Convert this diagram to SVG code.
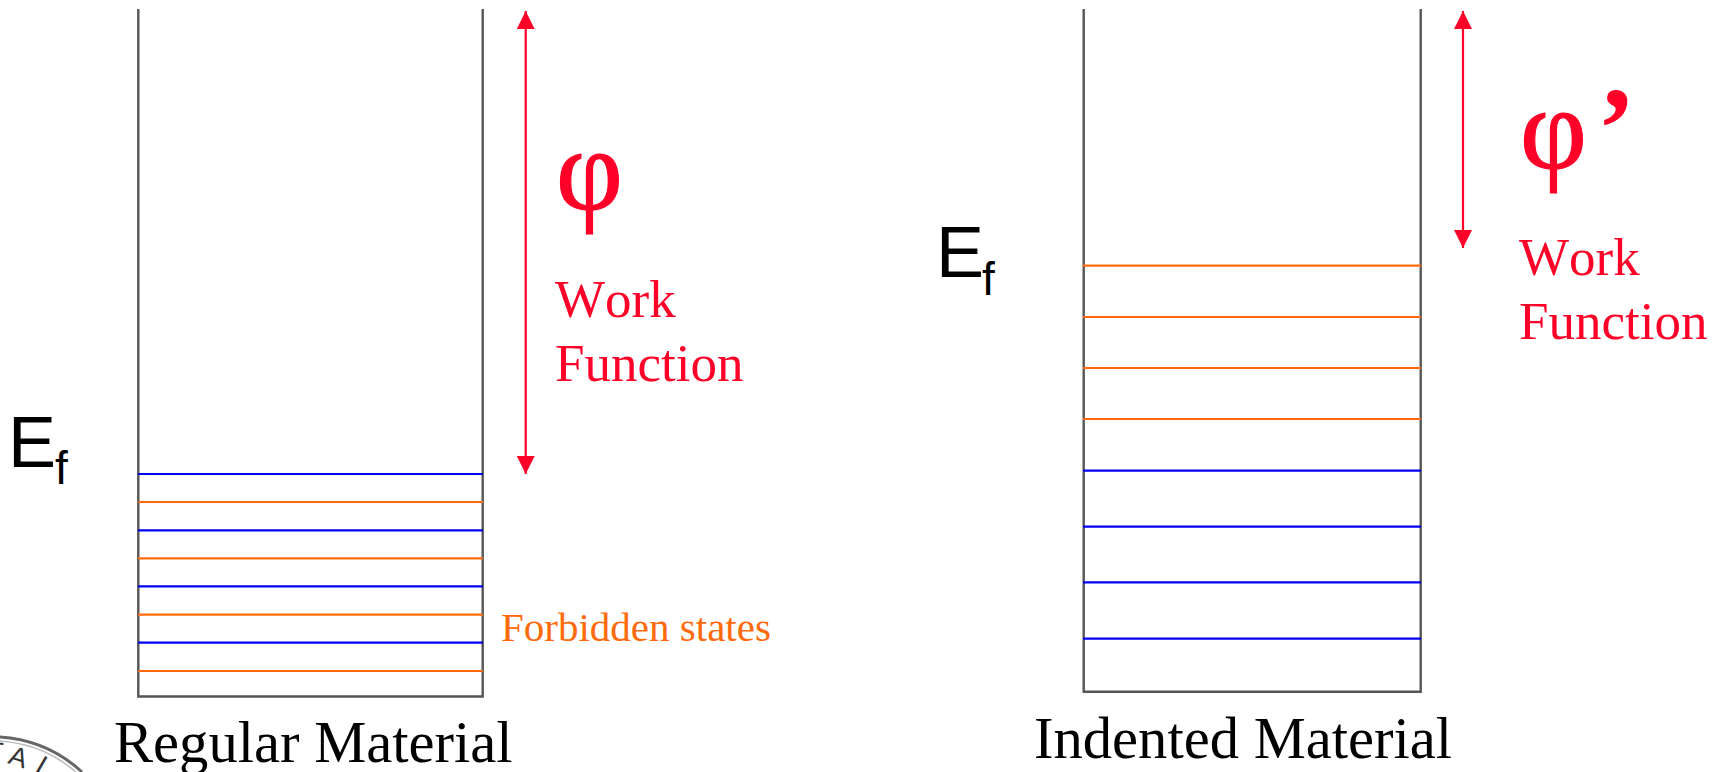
<svg xmlns="http://www.w3.org/2000/svg" width="1722" height="772" viewBox="0 0 1722 772">
<style>
.wall{fill:none;stroke:#555;stroke-width:2.4}
.b{stroke:#0000f0;stroke-width:2.2}
.o{stroke:#ff6a0d;stroke-width:2.2}
.r{stroke:#ff0029;stroke-width:2.2;fill:none;marker-start:url(#h);marker-end:url(#h)}
text{font-family:"Liberation Serif",serif}
.red{fill:#ff0029}
.lab{font-size:58.6px;fill:#000}
.ef{font-family:"Liberation Sans",sans-serif;font-size:72px;fill:#000}
.sub{font-family:"Liberation Sans",sans-serif;font-size:46px;fill:#000}
.wf{font-size:53px;font-kerning:none}
.phi{font-size:116px;stroke:#ff0029;stroke-width:1.2}
.prime{font-size:116px;font-weight:bold}
.seal{font-family:"Liberation Sans",sans-serif;font-size:27px;fill:#333}
</style>
<defs><marker id="h" viewBox="0 0 18 18" refX="18" refY="9" markerWidth="18" markerHeight="18" markerUnits="userSpaceOnUse" orient="auto-start-reverse"><path d="M0 0L18 9L0 18Z" fill="#ff0029"/></marker></defs>
<rect width="1722" height="772" fill="#fff"/>
<g id="connectors">
<line class="r" x1="525.7" y1="11" x2="525.7" y2="474"/>
<line class="r" x1="1463" y1="11" x2="1463" y2="248"/>
</g>
<g id="seal">
<path d="M0 737A134 134 0 0 1 82 772" fill="none" stroke="#666" stroke-width="3"/>
<path d="M0 741A130 130 0 0 1 76 772" fill="none" stroke="#bbb" stroke-width="1.5"/>
<text class="seal" transform="translate(-14 760) rotate(5)">T</text>
<text class="seal" transform="translate(7 763) rotate(18)">A</text>
<text class="seal" transform="translate(34 771) rotate(30)">L</text>
</g>
<g id="regular-material">
<path class="wall" d="M138.3 9V696.5H482.7V9"/>
<g class="b"><line x1="138" x2="483" y1="474" y2="474"/><line x1="138" x2="483" y1="530.3" y2="530.3"/><line x1="138" x2="483" y1="586.3" y2="586.3"/><line x1="138" x2="483" y1="642.7" y2="642.7"/></g>
<g class="o"><line x1="138" x2="483" y1="502" y2="502"/><line x1="138" x2="483" y1="558.3" y2="558.3"/><line x1="138" x2="483" y1="614.7" y2="614.7"/><line x1="138" x2="483" y1="671" y2="671"/></g>
<text class="lab" x="114" y="762">Regular Material</text>
<text x="501" y="641" font-size="41" fill="#ff6a0d">Forbidden states</text>
<text class="ef" x="8" y="467">E</text><text class="sub" x="55" y="484">f</text>
<text class="red phi" x="556" y="209">φ</text>
<text class="red wf" x="555" y="317">Work</text>
<text class="red wf" x="555" y="381">Function</text>
</g>
<g id="indented-material">
<path class="wall" d="M1083.7 9V691.7H1420.7V9"/>
<g class="o"><line x1="1083" x2="1421" y1="265.7" y2="265.7"/><line x1="1083" x2="1421" y1="317" y2="317"/><line x1="1083" x2="1421" y1="368" y2="368"/><line x1="1083" x2="1421" y1="419" y2="419"/></g>
<g class="b"><line x1="1083" x2="1421" y1="470.7" y2="470.7"/><line x1="1083" x2="1421" y1="526.7" y2="526.7"/><line x1="1083" x2="1421" y1="582.3" y2="582.3"/><line x1="1083" x2="1421" y1="638.7" y2="638.7"/></g>
<text class="lab" x="1034" y="758">Indented Material</text>
<text class="ef" x="936" y="277">E</text><text class="sub" x="982" y="295">f</text>
<text class="red phi" x="1520" y="168">φ</text>
<text class="red prime" x="1597" y="168">’</text>
<text class="red wf" x="1519" y="275">Work</text>
<text class="red wf" x="1519" y="339">Function</text>
</g>
</svg>
